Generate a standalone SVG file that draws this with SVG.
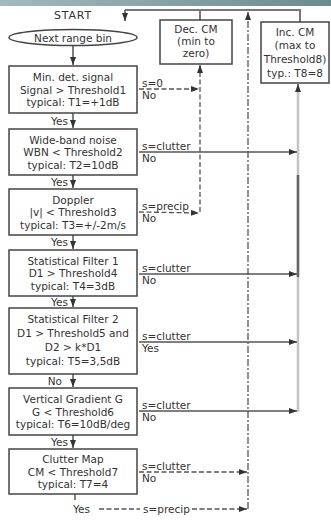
<svg xmlns="http://www.w3.org/2000/svg" width="331" height="521" viewBox="0 0 331 521">
<defs>
<linearGradient id="band" x1="0" y1="0" x2="1" y2="0">
<stop offset="0" stop-color="#a3b9bd"/>
<stop offset="1" stop-color="#6c8b90"/>
</linearGradient>
<marker id="ah" viewBox="0 0 8 6" refX="8" refY="3" markerWidth="8" markerHeight="6" markerUnits="userSpaceOnUse" orient="auto">
<path d="M0,0 L8,3 L0,6 Z" fill="#333"/>
</marker>
</defs>
<style>
text{font-family:"DejaVu Sans","Liberation Sans",sans-serif;font-size:10.5px;fill:#333}
.c{text-anchor:middle}
.e{text-anchor:end}
.box{fill:#fff;stroke:#444;stroke-width:1.5}
.solid{fill:none;stroke:#555;stroke-width:1.5}
.dash{fill:none;stroke:#555;stroke-width:1.3;stroke-dasharray:5,2.5}
.dashdot{fill:none;stroke:#555;stroke-width:1.3;stroke-dasharray:7,2,2,2}
.top{fill:none;stroke:#777;stroke-width:2}
</style>
<rect width="331" height="521" fill="#fff"/>
<rect x="0" y="0" width="331" height="6" fill="url(#band)"/>

<g id="connectors">
<path class="top" d="M125,10 L300,10 L300,22"/>
<path class="top" d="M125,10 L125,21" marker-end="url(#ah)"/>
<path class="top" d="M200,10 L200,20"/>
<line x1="73" y1="46" x2="73" y2="65" class="solid" marker-end="url(#ah)"/>
<line x1="73" y1="113" x2="73" y2="128" class="solid" marker-end="url(#ah)"/>
<line x1="73" y1="175" x2="73" y2="188" class="solid" marker-end="url(#ah)"/>
<line x1="73" y1="235" x2="73" y2="249" class="solid" marker-end="url(#ah)"/>
<line x1="73" y1="296" x2="73" y2="307" class="solid" marker-end="url(#ah)"/>
<line x1="73" y1="374" x2="73" y2="387" class="solid" marker-end="url(#ah)"/>
<line x1="73" y1="435" x2="73" y2="448" class="solid" marker-end="url(#ah)"/>
<line x1="75" y1="494" x2="75" y2="500" class="solid"/>
<line x1="200" y1="212" x2="200" y2="65" class="dash" marker-end="url(#ah)"/>
<line x1="139" y1="89" x2="199" y2="89" class="dash" marker-end="url(#ah)"/>
<line x1="139" y1="212" x2="199" y2="213" class="dash" marker-end="url(#ah)"/>
<line x1="248" y1="509" x2="248" y2="12" class="dashdot" marker-end="url(#ah)"/>
<line x1="139" y1="472" x2="247" y2="472" class="dash" marker-end="url(#ah)"/>
<line x1="99" y1="509" x2="140" y2="509" class="dash"/>
<line x1="192" y1="509" x2="247" y2="509" class="dash" marker-end="url(#ah)"/>
<line x1="298" y1="412" x2="298" y2="90" stroke="#c4c4c4" stroke-width="2.5"/>
<line x1="298" y1="175" x2="298" y2="277" stroke="#666" stroke-width="2.5"/>
<line x1="298" y1="92" x2="298" y2="84" class="solid" marker-end="url(#ah)"/>
<line x1="139" y1="152" x2="297" y2="152" class="solid" marker-end="url(#ah)"/>
<line x1="139" y1="274" x2="297" y2="274" class="solid" marker-end="url(#ah)"/>
<line x1="139" y1="342" x2="297" y2="342" class="solid" marker-end="url(#ah)"/>
<line x1="139" y1="411" x2="297" y2="411" class="solid" marker-end="url(#ah)"/>
</g>

<g id="labels">
<text x="68" y="124.5" class="e">Yes</text>
<text x="68" y="185.5" class="e">Yes</text>
<text x="68" y="246" class="e">Yes</text>
<text x="68" y="305.5" class="e">Yes</text>
<text x="62" y="384.5" class="e">No</text>
<text x="68" y="445.5" class="e">Yes</text>
<text x="142" y="87">s=0</text><text x="142" y="99">No</text>
<text x="142" y="150">s=clutter</text><text x="142" y="162">No</text>
<text x="142" y="210">s=precip</text><text x="142" y="222">No</text>
<text x="142" y="272">s=clutter</text><text x="142" y="284">No</text>
<text x="142" y="340">s=clutter</text><text x="142" y="352">Yes</text>
<text x="142" y="409">s=clutter</text><text x="142" y="421">No</text>
<text x="142" y="470">s=clutter</text><text x="142" y="482">No</text>
<text x="73" y="513">Yes</text>
<text x="143" y="513">s=precip</text>
</g>

<g id="start"><text x="73" y="19" class="c" style="font-size:11px;letter-spacing:0.8px">START</text></g>
<g id="next-range-bin">
<ellipse cx="73" cy="37.5" rx="64" ry="8" class="box"/>
<text x="73" y="41.5" class="c">Next range bin</text>
</g>
<g id="min-det-signal">
<rect x="9" y="66" width="128" height="47" class="box"/>
<text x="73" y="81" class="c">Min. det. signal</text>
<text x="73" y="93.5" class="c">Signal &gt; Threshold1</text>
<text x="73" y="106" class="c">typical: T1=+1dB</text>
</g>
<g id="wide-band-noise">
<rect x="9" y="129" width="128" height="46" class="box"/>
<text x="73" y="143.5" class="c">Wide-band noise</text>
<text x="73" y="156" class="c">WBN &lt; Threshold2</text>
<text x="73" y="168.5" class="c">typical: T2=10dB</text>
</g>
<g id="doppler">
<rect x="9" y="189" width="128" height="46" class="box"/>
<text x="73" y="203.5" class="c">Doppler</text>
<text x="73" y="216" class="c">|v| &lt; Threshold3</text>
<text x="73" y="228.5" class="c">typical: T3=+/-2m/s</text>
</g>
<g id="statistical-filter-1">
<rect x="9" y="250" width="128" height="46" class="box"/>
<text x="73" y="264.5" class="c">Statistical Filter 1</text>
<text x="73" y="277" class="c">D1 &gt; Threshold4</text>
<text x="73" y="289.5" class="c">typical: T4=3dB</text>
</g>
<g id="statistical-filter-2">
<rect x="9" y="308" width="128" height="66" class="box"/>
<text x="73" y="323" class="c">Statistical Filter 2</text>
<text x="73" y="337" class="c">D1 &gt; Threshold5 and</text>
<text x="73" y="351" class="c">D2 &gt; k*D1</text>
<text x="73" y="365" class="c">typical: T5=3,5dB</text>
</g>
<g id="vertical-gradient">
<rect x="9" y="388" width="128" height="47" class="box"/>
<text x="73" y="403" class="c">Vertical Gradient G</text>
<text x="73" y="415.5" class="c">G &lt; Threshold6</text>
<text x="73" y="428" class="c">typical: T6=10dB/deg</text>
</g>
<g id="clutter-map">
<rect x="9" y="449" width="128" height="45" class="box"/>
<text x="73" y="463" class="c">Clutter Map</text>
<text x="73" y="475.5" class="c">CM &lt; Threshold7</text>
<text x="73" y="488" class="c">typical: T7=4</text>
</g>
<g id="dec-cm">
<rect x="160" y="20" width="72" height="44" class="box"/>
<text x="196" y="33" class="c">Dec. CM</text>
<text x="196" y="45" class="c">(min to</text>
<text x="196" y="57" class="c">zero)</text>
</g>
<g id="inc-cm">
<rect x="261" y="22" width="68" height="61" class="box"/>
<text x="295" y="36" class="c">Inc. CM</text>
<text x="295" y="49" class="c">(max to</text>
<text x="295" y="63" class="c">Threshold8)</text>
<text x="295" y="77" class="c">typ.: T8=8</text>
</g>
</svg>
